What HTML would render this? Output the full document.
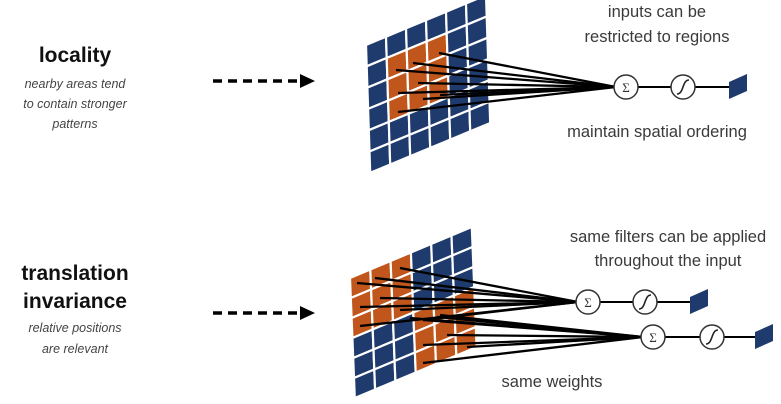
<!DOCTYPE html>
<html><head><meta charset="utf-8"><style>
html,body{margin:0;padding:0;background:#fff;}
svg{display:block;}
.b{font-family:"Liberation Sans",sans-serif;font-weight:bold;font-size:21px;fill:#111;text-anchor:middle;}
.i{font-family:"Liberation Sans",sans-serif;font-style:italic;font-size:12.5px;fill:#444;text-anchor:middle;}
.t{font-family:"Liberation Sans",sans-serif;font-size:16.5px;fill:#3a3a3a;text-anchor:middle;}
</style></head><body>
<svg id="s" width="781" height="404" viewBox="0 0 781 404" xmlns="http://www.w3.org/2000/svg">
<text class="b" x="75" y="62">locality</text>
<text class="i" x="75" y="88">nearby areas tend</text>
<text class="i" x="75" y="108">to contain stronger</text>
<text class="i" x="75" y="128">patterns</text>
<text class="b" x="75" y="280">translation</text>
<text class="b" x="75" y="308">invariance</text>
<text class="i" x="75" y="332">relative positions</text>
<text class="i" x="75" y="353">are relevant</text>
<line x1="213" y1="81" x2="302" y2="81" stroke="#000" stroke-width="3.5" stroke-dasharray="9,6"/>
<polygon points="300,74 315,81 300,88" fill="#000"/>
<line x1="213" y1="313" x2="302" y2="313" stroke="#000" stroke-width="3.5" stroke-dasharray="9,6"/>
<polygon points="300,306 315,313 300,320" fill="#000"/>
<text class="t" x="657" y="17">inputs can be</text>
<text class="t" x="657" y="42">restricted to regions</text>
<text class="t" x="657" y="137">maintain spatial ordering</text>
<text class="t" x="668" y="242">same filters can be applied</text>
<text class="t" x="668" y="266">throughout the input</text>
<text class="t" x="552" y="387">same weights</text>
<g id="g"></g>
</svg>
<script>
var NS="http://www.w3.org/2000/svg",g=document.getElementById("g");
function el(n,a){var e=document.createElementNS(NS,n);for(var k in a)e.setAttribute(k,a[k]);g.appendChild(e);return e;}
function grid(ox,oy,ux,uy,vx,vy,orange){
 for(var c=0;c<6;c++)for(var r=0;r<6;r++){
  var p=function(a,b){return (ox+a*ux+b*vx).toFixed(1)+","+(oy+a*uy+b*vy).toFixed(1);};
  el("polygon",{points:p(c,r)+" "+p(c+1,r)+" "+p(c+1,r+1)+" "+p(c,r+1),fill:orange(c,r)?"#c0561b":"#1f3b6e",stroke:"#fff","stroke-width":"2.2"});
 }
}
grid(366,45,20,-8.3,0.7,21.3,function(c,r){return c>=1&&c<=3&&r>=1&&r<=3;});
grid(350,278,20.3,-8.5,0.8,20,function(c,r){return (c<=2&&r<=2)||(c>=3&&r>=3);});
function fan(pts,x,y){pts.forEach(function(p){el("line",{x1:p[0],y1:p[1],x2:x,y2:y,stroke:"#000","stroke-width":"2.3"});});}
fan([[439,53],[413,63],[396,70],[418,83],[398,93],[440,95],[423,99],[398,112]],616,87);
fan([[400,268],[375,278],[357,283],[380,298],[360,307],[400,310],[360,326],[423,320]],578,302);
fan([[440,315],[423,320],[447,335],[423,345],[467,347],[423,363],[437,317],[410,318]],643,337);
function unit(x,y,sx,ox){
 el("line",{x1:x,y1:y,x2:ox,y2:y,stroke:"#000","stroke-width":"2"});
 el("circle",{cx:x,cy:y,r:12,fill:"#fff",stroke:"#333","stroke-width":"1.5"});
 var t=el("text",{x:x,y:y+5,"text-anchor":"middle","font-family":"Liberation Serif,serif","font-size":"13",fill:"#333"});t.textContent="Σ";
 el("circle",{cx:sx,cy:y,r:12,fill:"#fff",stroke:"#333","stroke-width":"1.5"});
 el("path",{d:"M"+(sx-6)+","+(y+7)+" C"+(sx+1)+","+(y+7)+" "+(sx-1)+","+(y-7)+" "+(sx+6)+","+(y-7),fill:"none",stroke:"#222","stroke-width":"1.6"});
 el("polygon",{points:(ox)+","+(y-5)+" "+(ox+18)+","+(y-13)+" "+(ox+18)+","+(y+4)+" "+(ox)+","+(y+12),fill:"#1f3b6e"});
}
unit(626,87,683,729);
unit(588,302,645,690);
unit(653,337,712,755);
</script>
</body></html>
